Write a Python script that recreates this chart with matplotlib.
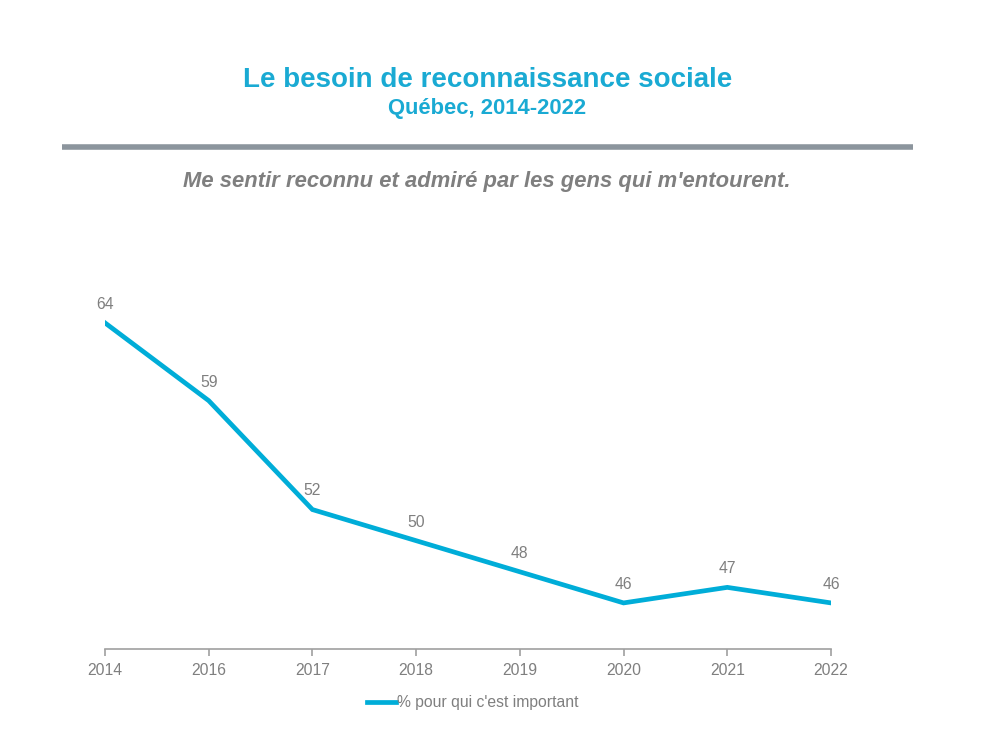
import matplotlib.pyplot as plt
from matplotlib.lines import Line2D

annees = ["2014", "2016", "2017", "2018", "2019", "2020", "2021", "2022"]
valeurs = [64, 59, 52, 50, 48, 46, 47, 46]

bleu = "#00ADD8"
gris = "#7F7F7F"
taille = 11.3

plt.rcParams["font.family"] = ["Liberation Sans", "DejaVu Sans"]

fig = plt.figure(figsize=(10, 7.5), dpi=100)
ax = fig.add_axes([0.105, 0.1347, 0.726, 0.4763])

xs = list(range(len(annees)))
ax.plot(xs, valeurs, color=bleu, linewidth=3.4, solid_joinstyle="miter")
for x, v in zip(xs, valeurs):
    ax.annotate(str(v), (x, v), xytext=(0, 8), textcoords="offset points",
                ha="center", va="bottom", fontsize=taille, color=gris)

ax.set_xlim(0, len(annees) - 1)
ax.set_ylim(43.04, 66)
ax.set_xticks(xs)
ax.set_xticklabels(annees, fontsize=taille, color=gris)
ax.set_yticks([])
for s in ["top", "right", "left"]:
    ax.spines[s].set_visible(False)
ax.spines["bottom"].set_color("#A0A0A0")
ax.spines["bottom"].set_linewidth(1.2)
ax.tick_params(axis="x", length=5, color="#A0A0A0", width=1.2, pad=5)

fig.text(0.488, 0.893, "Le besoin de reconnaissance sociale", ha="center", va="center",
         fontsize=20, fontweight="bold", color="#1AAAD3")
fig.text(0.487, 0.855, "Québec, 2014-2022", ha="center", va="center",
         fontsize=15.8, fontweight="bold", color="#1AAAD3")
fig.add_artist(Line2D([0.062, 0.913], [0.804, 0.804], color="#8C959D", linewidth=4,
                      solid_capstyle="butt"))
fig.text(0.487, 0.758, "Me sentir reconnu et admiré par les gens qui m'entourent.",
         ha="center", va="center", fontsize=15.8, fontweight="bold", fontstyle="italic", color=gris)

leg = ax.legend([Line2D([0], [0], color=bleu, linewidth=3.4)], ["% pour qui c'est important"],
                loc="center", bbox_to_anchor=(0.507, -0.151), frameon=False,
                handlelength=1.8, handletextpad=0.1, prop={"size": taille})
for t in leg.get_texts():
    t.set_color(gris)

fig.savefig("out.png", dpi=100)
